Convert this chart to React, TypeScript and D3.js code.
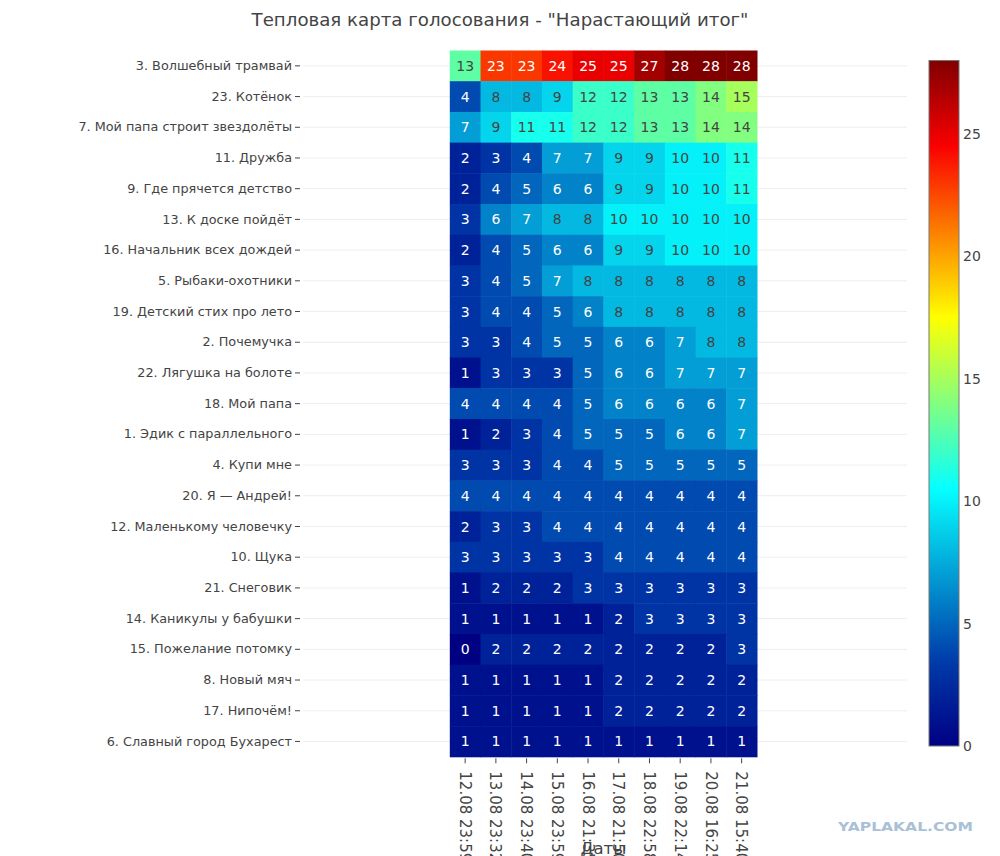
import React, { useEffect, useRef } from 'react';
import * as d3 from 'd3';

// Даты (столбцы)
const dates = [
    '12.08 23:59', '13.08 23:32', '14.08 23:40', '15.08 23:59', '16.08 21:35',
    '17.08 21:50', '18.08 22:58', '19.08 22:14', '20.08 16:25', '21.08 15:40',
];

// Стихи (строки, сверху вниз)
const poems = [
    '3. Волшебный трамвай',
    '23. Котёнок',
    '7. Мой папа строит звездолёты',
    '11. Дружба',
    '9. Где прячется детство',
    '13. К доске пойдёт',
    '16. Начальник всех дождей',
    '5. Рыбаки-охотники',
    '19. Детский стих про лето',
    '2. Почемучка',
    '22. Лягушка на болоте',
    '18. Мой папа',
    '1. Эдик с параллельного',
    '4. Купи мне',
    '20. Я — Андрей!',
    '12. Маленькому человечку',
    '10. Щука',
    '21. Снеговик',
    '14. Каникулы у бабушки',
    '15. Пожелание потомку',
    '8. Новый мяч',
    '17. Нипочём!',
    '6. Славный город Бухарест',
];

// Нарастающий итог голосов
const votes = [
    [13, 23, 23, 24, 25, 25, 27, 28, 28, 28],
    [4, 8, 8, 9, 12, 12, 13, 13, 14, 15],
    [7, 9, 11, 11, 12, 12, 13, 13, 14, 14],
    [2, 3, 4, 7, 7, 9, 9, 10, 10, 11],
    [2, 4, 5, 6, 6, 9, 9, 10, 10, 11],
    [3, 6, 7, 8, 8, 10, 10, 10, 10, 10],
    [2, 4, 5, 6, 6, 9, 9, 10, 10, 10],
    [3, 4, 5, 7, 8, 8, 8, 8, 8, 8],
    [3, 4, 4, 5, 6, 8, 8, 8, 8, 8],
    [3, 3, 4, 5, 5, 6, 6, 7, 8, 8],
    [1, 3, 3, 3, 5, 6, 6, 7, 7, 7],
    [4, 4, 4, 4, 5, 6, 6, 6, 6, 7],
    [1, 2, 3, 4, 5, 5, 5, 6, 6, 7],
    [3, 3, 3, 4, 4, 5, 5, 5, 5, 5],
    [4, 4, 4, 4, 4, 4, 4, 4, 4, 4],
    [2, 3, 3, 4, 4, 4, 4, 4, 4, 4],
    [3, 3, 3, 3, 3, 4, 4, 4, 4, 4],
    [1, 2, 2, 2, 3, 3, 3, 3, 3, 3],
    [1, 1, 1, 1, 1, 2, 3, 3, 3, 3],
    [0, 2, 2, 2, 2, 2, 2, 2, 2, 3],
    [1, 1, 1, 1, 1, 2, 2, 2, 2, 2],
    [1, 1, 1, 1, 1, 2, 2, 2, 2, 2],
    [1, 1, 1, 1, 1, 1, 1, 1, 1, 1],
];

const colorbarTicks = [0, 5, 10, 15, 20, 25];

// Шкала Jet (как в plotly)
const jetStops = [0, 0.125, 0.375, 0.625, 0.875, 1];
const jetColors = ['rgb(0,0,131)', 'rgb(0,60,170)', 'rgb(5,255,255)', 'rgb(255,255,0)', 'rgb(250,0,0)', 'rgb(128,0,0)'];

const FONT = '"DejaVu Sans", Verdana, sans-serif';
const TEXT = '#444';

const App: React.FC = () => {
    const ref = useRef<SVGSVGElement>(null);
    const width = 1000;
    const height = 856;

    const plot = { left: 303, right: 907, top: 50.5, bottom: 756.8 };
    const heat = { left: 449.8, right: 757 };

    useEffect(() => {
        drawHeatmap();
        //eslint-disable-next-line
    }, []);

    const drawHeatmap = () => {
        const zMax = d3.max(votes.flat()) as number;
        const zMin = d3.min(votes.flat()) as number;

        const x = d3.scaleBand<string>().domain(dates).range([heat.left, heat.right]);
        const y = d3.scaleBand<string>().domain(poems).range([plot.top, plot.bottom]);
        const color = d3.scaleLinear<string>()
            .domain(jetStops.map(t => zMin + t * (zMax - zMin)))
            .range(jetColors)
            .interpolate(d3.interpolateRgb);

        const svg = d3.select(ref.current);
        svg.selectAll('*').remove();

        // Заголовок
        svg.append('text')
            .attr('x', 500)
            .attr('y', 26)
            .attr('text-anchor', 'middle')
            .attr('font-family', FONT)
            .attr('font-size', 18.2)
            .attr('fill', TEXT)
            .text('Тепловая карта голосования - "Нарастающий итог"');

        // Горизонтальная сетка
        svg.append('g')
            .selectAll('line')
            .data(poems)
            .enter().append('line')
            .attr('x1', plot.left)
            .attr('x2', plot.right)
            .attr('y1', d => (y(d) as number) + y.bandwidth() / 2)
            .attr('y2', d => (y(d) as number) + y.bandwidth() / 2)
            .attr('stroke', '#eee')
            .attr('stroke-width', 1);

        // Ячейки
        const cells = votes.flatMap((row, i) => row.map((v, j) => ({ poem: poems[i], date: dates[j], v })));

        svg.append('g')
            .selectAll('rect')
            .data(cells)
            .enter().append('rect')
            .attr('x', d => x(d.date) as number)
            .attr('y', d => y(d.poem) as number)
            .attr('width', x.bandwidth() + 0.5)
            .attr('height', y.bandwidth() + 0.5)
            .attr('fill', d => color(d.v));

        const isLight = (c: string) => {
            const rgb = d3.rgb(c);
            return (rgb.r * 299 + rgb.g * 587 + rgb.b * 114) / 1000 >= 128;
        };

        svg.append('g')
            .selectAll('text')
            .data(cells)
            .enter().append('text')
            .attr('x', d => (x(d.date) as number) + x.bandwidth() / 2)
            .attr('y', d => (y(d.poem) as number) + y.bandwidth() / 2)
            .attr('dy', '0.36em')
            .attr('text-anchor', 'middle')
            .attr('font-family', FONT)
            .attr('font-size', 14)
            .attr('fill', d => (isLight(color(d.v)) ? TEXT : '#fff'))
            .text(d => d.v);

        // Ось Y
        const yAxis = svg.append('g')
            .attr('transform', `translate(${plot.left - 3},0)`)
            .call(d3.axisLeft(y).tickSize(5).tickPadding(3));
        yAxis.select('.domain').remove();
        yAxis.selectAll('line').attr('stroke', TEXT);
        yAxis.selectAll('text')
            .attr('font-family', FONT)
            .attr('font-size', 12.8)
            .attr('fill', TEXT);

        // Ось X
        const xAxis = svg.append('g')
            .attr('transform', `translate(0,${plot.bottom + 1.5})`)
            .call(d3.axisBottom(x).tickSize(5).tickPadding(0));
        xAxis.select('.domain').remove();
        xAxis.selectAll('line').attr('stroke', TEXT);
        xAxis.selectAll('text')
            .attr('font-family', FONT)
            .attr('font-size', 15)
            .attr('fill', TEXT)
            .attr('text-anchor', 'start')
            .attr('dy', '0.36em')
            .attr('transform', 'translate(0,13) rotate(90)')
            .attr('x', 0)
            .attr('y', 0);

        svg.append('text')
            .attr('x', (heat.left + heat.right) / 2)
            .attr('y', 854)
            .attr('text-anchor', 'middle')
            .attr('font-family', FONT)
            .attr('font-size', 16.5)
            .attr('fill', TEXT)
            .text('Даты');

        // Цветовая шкала
        const cb = { left: 929, width: 30 };
        const cbScale = d3.scaleLinear().domain([zMin, zMax]).range([746, 60.5]);

        const grad = svg.append('defs').append('linearGradient')
            .attr('id', 'jet')
            .attr('x1', 0).attr('x2', 0)
            .attr('y1', 1).attr('y2', 0);
        jetStops.forEach((t, i) => {
            grad.append('stop').attr('offset', t).attr('stop-color', jetColors[i]);
        });

        svg.append('rect')
            .attr('x', cb.left)
            .attr('y', cbScale(zMax))
            .attr('width', cb.width)
            .attr('height', cbScale(zMin) - cbScale(zMax))
            .attr('fill', 'url(#jet)')
            .attr('stroke', '#777')
            .attr('stroke-width', 1);

        svg.append('g')
            .selectAll('text')
            .data(colorbarTicks)
            .enter().append('text')
            .attr('x', cb.left + cb.width + 4)
            .attr('y', d => cbScale(d))
            .attr('dy', '0.36em')
            .attr('font-family', FONT)
            .attr('font-size', 14)
            .attr('fill', TEXT)
            .text(d => d);

        // Водяной знак
        svg.append('text')
            .attr('x', 838)
            .attr('y', 831)
            .attr('font-family', FONT)
            .attr('font-weight', 900)
            .attr('font-size', 13)
            .attr('textLength', 135)
            .attr('lengthAdjust', 'spacingAndGlyphs')
            .attr('fill', '#a9c0d6')
            .text('YAPLAKAL.COM');
    };

    return (
        <svg
            ref={ref}
            width={width}
            height={height}
            style={{ position: 'absolute', left: 0, top: 0, background: '#fff' }}
        ></svg>
    );
};

export default App;
